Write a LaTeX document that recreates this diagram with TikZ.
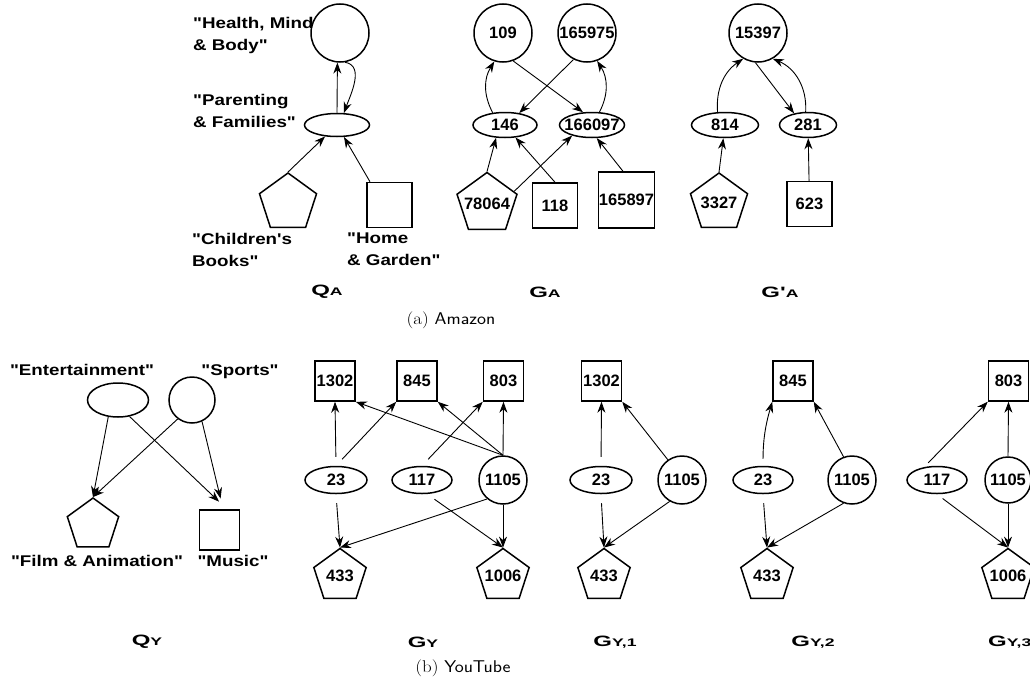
\documentclass[tikz,border=0pt]{standalone}
\usepackage{fontspec}
\usepackage{graphicx}
\usetikzlibrary{arrows.meta,shapes.geometric}
\newfontfamily\figfont[FakeStretch=1.21,Ligatures=TeXOff]{Liberation Sans}
\newfontfamily\numfont{Liberation Sans}
\newfontfamily\namefont[FakeStretch=1.6,Ligatures=TeXOff]{Liberation Sans}
\newcommand{\gname}[2]{{\namefont\bfseries\fontsize{15}{16}\selectfont #1{\fontsize{11}{12}\selectfont #2}}}
\newcommand{\nlab}[1]{\makebox[0pt]{#1}}

\begin{document}
\begin{tikzpicture}[x=1pt,y=-1pt,
    nd/.style={draw,line width=1.5pt,inner sep=0pt,font=\numfont\bfseries\fontsize{16.5}{18}\selectfont},
    cir/.style={nd,circle,minimum size=#1},
    ell/.style={nd,ellipse,minimum width=#1,minimum height=25pt},
    pent/.style={nd,regular polygon,regular polygon sides=5,minimum size=#1},
    sq/.style={nd,rectangle,minimum size=#1},
    lbl/.style={inner sep=0pt,align=left,font=\figfont\bfseries\fontsize{15.5}{22}\selectfont},
    gn/.style={inner sep=0pt},
    edge/.style={-{Stealth[length=11pt,width=8pt]},line width=0.9pt}]
  \useasboundingbox (0,0) rectangle (1030,688);

  \node[cir=58pt] (hmb) at (340,33) {};
  \node[ell=65pt,minimum height=23pt] (pf) at (337,125) {};
  \node[pent=60pt] (cb) at (288,203) {};
  \node[sq=45pt] (hg) at (389.5,205) {};
  \node[lbl,anchor=north west] (lhmb) at (193,17) {"Health, Mind\\\& Body"};
  \node[lbl,anchor=north west] (lpf) at (193,94) {"Parenting\\\& Families"};
  \node[lbl,anchor=north west] (lcb) at (192,233) {"Children's\\Books"};
  \node[lbl,anchor=north west] (lhg) at (347,233) {"Home\\\& Garden"};
  \node[gn] (qa) at (327,292) {\gname{Q}{A}};
  \draw[edge] (pf.north) -- (hmb.-95);
  \draw[edge] (hmb.-80) to[out=-10,in=70] (pf.60);
  \foreach \s/\t in {cb.north/pf, hg.130/pf}
    \draw[edge] (\s) -- (\t);

  \node[cir=58pt] (a109) at (503,33) {\nlab{109}};
  \node[cir=58pt] (a165975) at (587,33) {\nlab{165975}};
  \node[ell=64pt] (a146) at (505,125) {\nlab{146}};
  \node[ell=65pt] (a166097) at (592,125) {\nlab{166097}};
  \node[pent=63pt] (a78064) at (487,204) {\nlab{78064}};
  \node[sq=45pt] (a118) at (555,205.5) {\nlab{118}};
  \node[sq=56pt] (a165897) at (626.5,200) {\nlab{165897}};
  \node[gn] (ga) at (545,292) {\gname{G}{A}};
  \draw[edge] (a146.135) to[bend left=30] (a109.-107);
  \draw[edge] (a166097.60) to[bend right=30] (a165975.-70);
  \foreach \s/\t in {a109.-70/a166097.125, a165975.-117/a146.40, a78064.north/a146.-125,
      a78064.25/a166097.-152, a118.north/a146.-50, a165897.97/a166097.-70}
    \draw[edge] (\s) -- (\t);

  \node[cir=58pt] (b15397) at (758,33) {\nlab{15397}};
  \node[ell=67pt] (b814) at (725,125) {\nlab{814}};
  \node[ell=57pt] (b281) at (808,125) {\nlab{281}};
  \node[pent=60pt] (b3327) at (719,203) {\nlab{3327}};
  \node[sq=45pt] (b623) at (809.5,204) {\nlab{623}};
  \node[gn] (gpa) at (780,292) {\gname{G'}{A}};
  \draw[edge] (b814.120) to[bend left=30] (b15397.-120);
  \draw[edge] (b281.100) to[bend right=35] (b15397.-60);
  \foreach \s/\t in {b15397.-95/b281.140, b3327.north/b814, b623/b281}
    \draw[edge] (\s) -- (\t);

  \node (capa) at (451,320) {\scalebox{1.12}[1]{\fontsize{17}{18}\selectfont\rmfamily (a)~\sffamily Amazon}};

  \node[ell=61pt,minimum height=34pt] (ye) at (118,400) {};
  \node[cir=46pt] (ys) at (192,400) {};
  \node[pent=54pt] (yf) at (93,525) {};
  \node[sq=40pt] (ym) at (219.5,530) {};
  \node[lbl,anchor=base] (lye) at (82,375) {"Entertainment"};
  \node[lbl,anchor=base] (lys) at (240,375) {"Sports"};
  \node[lbl,anchor=base] (lyf) at (97,566) {"Film \& Animation"};
  \node[lbl,anchor=base] (lym) at (233,566) {"Music"};
  \node[gn] (qy) at (147,642) {\gname{Q}{Y}};
  \foreach \s/\t in {ye.-120/yf.north, ys.-127/yf.north}
    \draw[edge] (\s) -- (\t);
  \foreach \s/\t in {ye.-55/ym.70, ys.-65/ym.80}
    \draw[edge,shorten >=11pt] (\s) -- (\t);

  \node[sq=40pt] (g1302) at (335,381) {\nlab{1302}};
  \node[sq=40pt] (g845) at (417,381) {\nlab{845}};
  \node[sq=40pt] (g803) at (503.5,381) {\nlab{803}};
  \node[ell=62pt,minimum height=27pt] (g23) at (336,480) {\nlab{23}};
  \node[ell=60pt,minimum height=27pt] (g117) at (422,480) {\nlab{117}};
  \node[cir=48pt] (g1105) at (503,480) {\nlab{1105}};
  \node[pent=55pt] (g433) at (340,576) {\nlab{433}};
  \node[pent=55pt] (g1006) at (503,576) {\nlab{1006}};
  \node[gn] (gy) at (423,642) {\gname{G}{Y}};
  \foreach \s/\t in {g23.north/g1302.south, g23.north/g845.south west, g117.north/g803.south west,
      g23.south/g433.north, g117.-70/g1006.north}
    \draw[edge,shorten <=9pt] (\s) -- (\t);
  \foreach \s/\t in {g1105.north/g1302.south east, g1105.north/g845.south east, g1105.north/g803.south,
      g1105.-130/g433.north, g1105.south/g1006.north}
    \draw[edge] (\s) -- (\t);

  \node[sq=40pt] (h1302) at (601.5,381) {\nlab{1302}};
  \node[ell=62pt,minimum height=27pt] (h23) at (601,480) {\nlab{23}};
  \node[cir=48pt] (h1105) at (682,480) {\nlab{1105}};
  \node[pent=55pt] (h433) at (604,576) {\nlab{433}};
  \node[gn] (gy1) at (615,642) {\gname{G}{Y,1}};
  \foreach \s/\t in {h23.north/h1302.south, h23.south/h433.north}
    \draw[edge,shorten <=9pt] (\s) -- (\t);
  \foreach \s/\t in {h1105.125/h1302.south east, h1105.-120/h433.north}
    \draw[edge] (\s) -- (\t);

  \node[sq=40pt] (i845) at (793,381) {\nlab{845}};
  \node[ell=60pt,minimum height=27pt] (i23) at (763,480) {\nlab{23}};
  \node[cir=48pt] (i1105) at (852,480) {\nlab{1105}};
  \node[pent=55pt] (i433) at (767,576) {\nlab{433}};
  \node[gn] (gy2) at (813,642) {\gname{G}{Y,2}};
  \draw[edge,shorten <=7pt] (i23.north) to[bend left=8] (i845.south west);
  \draw[edge,shorten <=9pt] (i23.south) -- (i433.north);
  \foreach \s/\t in {i1105.110/i845.south east, i1105.-110/i433.north}
    \draw[edge] (\s) -- (\t);

  \node[sq=40pt] (j803) at (1008.5,381) {\nlab{803}};
  \node[ell=60pt,minimum height=27pt] (j117) at (937,480) {\nlab{117}};
  \node[cir=46pt] (j1105) at (1008,480) {\nlab{1105}};
  \node[pent=55pt] (j1006) at (1008,576) {\nlab{1006}};
  \node[gn,anchor=west] (gy3) at (988,642) {\gname{G}{Y,3}};
  \draw[edge,shorten <=6pt] (j117.135) -- (j803.south west);
  \draw[edge,shorten <=7pt] (j117.south) -- (j1006.north);
  \foreach \s/\t in {j1105.north/j803.south, j1105.south/j1006.north}
    \draw[edge] (\s) -- (\t);

  \node (capb) at (463,668) {\scalebox{1.12}[1]{\fontsize{17}{18}\selectfont\rmfamily (b)~\sffamily YouTube}};
\end{tikzpicture}
\end{document}
